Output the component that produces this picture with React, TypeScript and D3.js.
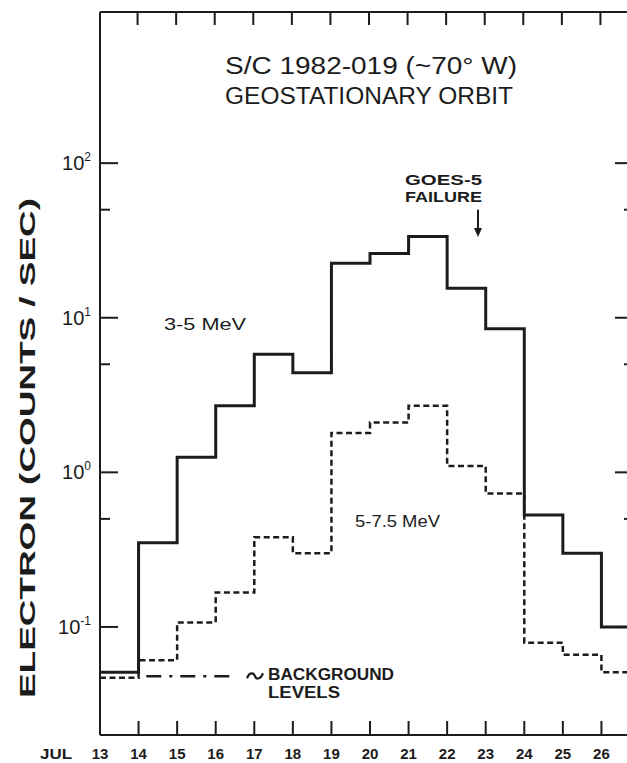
import React from "react";
import * as d3 from "d3";

const days = [13, 14, 15, 16, 17, 18, 19, 20, 21, 22, 23, 24, 25, 26];
const endDay = 27;
const flux35 = [0.051, 0.35, 1.25, 2.7, 5.8, 4.4, 22.5, 26, 33.5, 15.5, 8.5, 0.53, 0.3, 0.1];
const flux575 = [0.047, 0.061, 0.107, 0.167, 0.38, 0.3, 1.8, 2.1, 2.7, 1.1, 0.73, 0.079, 0.066, 0.051];
const dayLabels = ["13", "14", "15", "16", "17", "18", "19", "20", "21", "22", "23", "24", "25", "26"];
const majorTicks = [0.1, 1, 10, 100];
const majorExp = ["-1", "0", "1", "2"];
const minorTicks = [0.5, 5, 50];
const backgroundLevel = 0.048;
const backgroundSpan = [14.2, 16.5];
const failureDay = 22.8;
const failureArrow = [50, 33.3];

const W = 627;
const H = 763;
const FONT = "'Liberation Sans', 'DejaVu Sans', Arial, sans-serif";
const INK = "#1c1c1c";

export default function App() {
  const x = d3.scaleLinear().domain([13, 27]).range([100, 640]);
  const y = d3.scaleLog().domain([0.02, 950]).range([735, 12]);

  const line = d3
    .line<[number, number]>()
    .x((d) => x(d[0]))
    .y((d) => y(d[1]))
    .curve(d3.curveStepAfter);

  const pts = (vals: number[]): [number, number][] => {
    const p: [number, number][] = days.map((d, i) => [d, vals[i]]);
    p.push([endDay, vals[vals.length - 1]]);
    return p;
  };

  const x0 = x(13);
  const x1 = x(27);
  const yTop = y(950);
  const yBot = y(0.02);
  const yBg = y(backgroundLevel);
  const tx = x(backgroundSpan[1]) + 28;

  return (
    <svg
      width={W}
      height={H}
      style={{ position: "absolute", left: 0, top: 0, background: "#fff" }}
      fontFamily={FONT}
    >
      <rect x={0} y={0} width={W} height={H} fill="#fff" />
      {/* frame */}
      <g stroke={INK} strokeWidth={2} fill="none">
        <line x1={x0} y1={yTop} x2={x0} y2={yBot} />
        <line x1={x0} y1={yBot} x2={x1} y2={yBot} />
        <line x1={x0} y1={yTop} x2={x1} y2={yTop} />
        <line x1={x1} y1={yTop} x2={x1} y2={yBot} />
        {days.slice(1).concat([endDay]).map((d) => (
          <g key={"xt" + d}>
            <line x1={x(d)} y1={yBot} x2={x(d)} y2={yBot - 14} />
            <line x1={x(d) - 1} y1={yTop} x2={x(d) - 1} y2={yTop + 13} />
          </g>
        ))}
        {majorTicks.map((v) => (
          <g key={"ym" + v}>
            <line x1={x0} y1={y(v)} x2={x0 + 18} y2={y(v)} />
            <line x1={x1} y1={y(v)} x2={x1 - 25} y2={y(v)} />
          </g>
        ))}
        {minorTicks.map((v) => (
          <g key={"yn" + v}>
            <line x1={x0} y1={y(v)} x2={x0 + 10} y2={y(v)} />
            <line x1={x1} y1={y(v)} x2={x1 - 16} y2={y(v)} />
          </g>
        ))}
      </g>

      {/* y tick labels */}
      {majorTicks.map((v, i) => (
        <text
          key={"yl" + v}
          x={x0 - 9}
          y={y(v) + 7}
          textAnchor="end"
          fontSize={20}
          fill={INK}
        >
          10
          <tspan fontSize={12} dy={-9}>
            {majorExp[i]}
          </tspan>
        </text>
      ))}

      {/* x tick labels */}
      {days.map((d, i) => (
        <text
          key={"xl" + d}
          x={x(d)}
          y={759}
          textAnchor="middle"
          fontSize={15}
          fontWeight="bold"
          fill={INK}
        >
          {dayLabels[i]}
        </text>
      ))}
      <text x={40} y={759} fontSize={15} fontWeight="bold" fill={INK} textLength={32} lengthAdjust="spacingAndGlyphs">
        JUL
      </text>

      {/* y label */}
      <text
        transform={`translate(35, 448) rotate(-90)`}
        textAnchor="middle"
        fontSize={22}
        fontWeight="bold"
        fill={INK}
        textLength={500}
        lengthAdjust="spacingAndGlyphs"
      >
        ELECTRON (COUNTS / SEC)
      </text>

      {/* title */}
      <text x={225} y={74} fontSize={23} fill={INK} textLength={292} lengthAdjust="spacingAndGlyphs">
        S/C 1982-019 (~70° W)
      </text>
      <text x={225} y={104} fontSize={23} fill={INK} textLength={288} lengthAdjust="spacingAndGlyphs">
        GEOSTATIONARY ORBIT
      </text>

      {/* data */}
      <path d={line(pts(flux35)) || ""} fill="none" stroke={INK} strokeWidth={3} />
      <path
        d={line(pts(flux575)) || ""}
        fill="none"
        stroke={INK}
        strokeWidth={2.5}
        strokeDasharray="6 3.5"
      />

      {/* background */}
      <line
        x1={x(backgroundSpan[0])}
        x2={x(backgroundSpan[1])}
        y1={yBg}
        y2={yBg}
        stroke={INK}
        strokeWidth={2.5}
        strokeDasharray="15 8 3 8"
      />
      <path
        d={`M${tx - 16},${yBg + 2} C${tx - 13},${yBg - 5} ${tx - 9},${yBg - 3} ${tx - 8},${yBg} S${tx - 3},${yBg + 4} ${tx},${yBg - 3}`}
        fill="none"
        stroke={INK}
        strokeWidth={2.2}
      />
      <text x={tx + 5} y={680} fontSize={16} fontWeight="bold" fill={INK} textLength={126} lengthAdjust="spacingAndGlyphs">
        BACKGROUND
      </text>
      <text x={tx + 5} y={698} fontSize={16} fontWeight="bold" fill={INK} textLength={72} lengthAdjust="spacingAndGlyphs">
        LEVELS
      </text>

      {/* series labels */}
      <text x={164} y={330} fontSize={16} fill={INK} textLength={82} lengthAdjust="spacingAndGlyphs">
        3-5 MeV
      </text>
      <text x={355} y={527} fontSize={17} fill={INK} textLength={85} lengthAdjust="spacingAndGlyphs">
        5-7.5 MeV
      </text>

      {/* GOES-5 failure */}
      <text x={405} y={185} fontSize={15} fontWeight="bold" fill={INK} textLength={77} lengthAdjust="spacingAndGlyphs">
        GOES-5
      </text>
      <text x={405} y={202} fontSize={15} fontWeight="bold" fill={INK} textLength={77} lengthAdjust="spacingAndGlyphs">
        FAILURE
      </text>
      <line
        x1={x(failureDay)}
        x2={x(failureDay)}
        y1={y(failureArrow[0])}
        y2={y(failureArrow[1]) - 6}
        stroke={INK}
        strokeWidth={2}
      />
      <path
        d={`M${x(failureDay) - 4},${y(failureArrow[1]) - 9} L${x(failureDay) + 4},${y(failureArrow[1]) - 9} L${x(failureDay)},${y(failureArrow[1])} Z`}
        fill={INK}
      />
    </svg>
  );
}
